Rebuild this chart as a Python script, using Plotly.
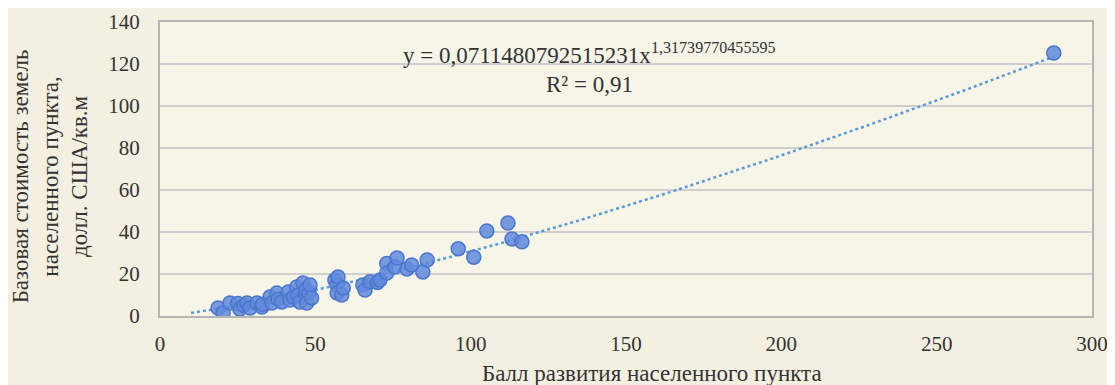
import plotly.graph_objects as go
import numpy as np

# Data
x_ball = [18.7, 20.3, 22.5, 25.0, 25.7, 27.0, 28.0, 29.0, 31.2, 32.8, 33.0, 35.4, 36.0, 37.6, 38.0,
          39.2, 41.3, 41.8, 43.0, 44.0, 44.4, 45.0, 46.0, 46.7, 47.0, 47.2, 48.0, 48.3, 48.8,
          56.3, 57.0, 57.0, 57.3, 58.5, 59.0,
          65.3, 66.0, 67.6, 70.0, 70.8, 73.0, 73.0, 75.6, 76.3, 79.5, 81.0, 84.6, 86.0,
          96.0, 101.0, 105.2, 112.0, 113.3, 116.5, 287.7]
y_cost = [3.8, 1.4, 6.2, 6.0, 3.3, 5.0, 6.2, 3.8, 6.2, 4.3, 5.5, 9.0, 6.2, 10.9, 8.0,
          6.7, 11.4, 7.6, 9.0, 13.8, 10.0, 6.7, 15.7, 10.9, 12.5, 6.2, 11.0, 14.8, 8.6,
          17.1, 14.8, 10.9, 18.6, 10.0, 13.3,
          14.8, 12.4, 16.3, 16.0, 17.1, 25.0, 20.5, 23.3, 27.6, 22.4, 24.3, 21.0, 26.7,
          32.0, 28.0, 40.5, 44.3, 36.7, 35.3, 125.2]

# Trendline coefficients shown on the chart
coef_a = 0.0711480792515231
coef_b = 1.31739770455595
trend_x = np.linspace(10, 288, 200)
trend_y = coef_a * trend_x ** coef_b

x_ticks = [0, 50, 100, 150, 200, 250, 300]
y_ticks = [0, 20, 40, 60, 80, 100, 120, 140]

font_family = "Liberation Serif, Times New Roman, serif"
text_color = "#333333"

fig = go.Figure()
fig.add_trace(go.Scatter(
    x=trend_x, y=trend_y, mode="lines",
    line=dict(color="#5b9bd5", width=2.5, dash="dot"),
    hoverinfo="skip", showlegend=False))
fig.add_trace(go.Scatter(
    x=x_ball, y=y_cost, mode="markers",
    marker=dict(size=14, color="rgba(96,138,220,0.85)",
                line=dict(color="#4a76cc", width=1.5)),
    showlegend=False))

fig.update_layout(
    width=1107, height=377,
    margin=dict(l=152, r=23, t=14, b=69, autoexpand=False),
    paper_bgcolor="#f4f0e1",
    plot_bgcolor="#f7f4e8",
    font=dict(family=font_family, size=21, color=text_color),
    xaxis=dict(range=[0, 300], tickvals=x_ticks, showgrid=False, zeroline=False,
               automargin=False,
               showline=True, linecolor="#b5b5b5", linewidth=2, mirror=True,
               ticks="outside", ticklen=8, tickcolor="rgba(0,0,0,0)",
               tickfont=dict(size=21, color=text_color)),
    yaxis=dict(range=[0, 140], tickvals=y_ticks, showgrid=True, gridcolor="#cfcfcf",
               gridwidth=2, zeroline=False, automargin=False,
               showline=True, linecolor="#b5b5b5", linewidth=2, mirror=True,
               ticks="outside", ticklen=14, tickcolor="rgba(0,0,0,0)",
               tickfont=dict(size=21, color=text_color)),
    annotations=[
        dict(text="y = 0,0711480792515231x<sup>1,31739770455595</sup>",
             xref="paper", yref="paper", x=0.461, y=0.894, showarrow=False,
             xanchor="center", yanchor="middle", font=dict(size=23, color=text_color)),
        dict(text="R² = 0,91",
             xref="paper", yref="paper", x=0.461, y=0.789, showarrow=False,
             xanchor="center", yanchor="middle", font=dict(size=23, color=text_color)),
        dict(text="Балл развития населенного пункта",
             xref="paper", yref="paper", x=0.528, y=-0.197, showarrow=False,
             xanchor="center", yanchor="middle", font=dict(size=23, color=text_color)),
        dict(text="Базовая стоимость земель<br>населенного пункта,<br>долл. США/кв.м",
             xref="paper", yref="paper", x=-0.118, y=0.475, showarrow=False,
             textangle=-90, xanchor="center", yanchor="middle",
             font=dict(size=23, color=text_color)),
    ],
)

fig.write_html("out.html")
